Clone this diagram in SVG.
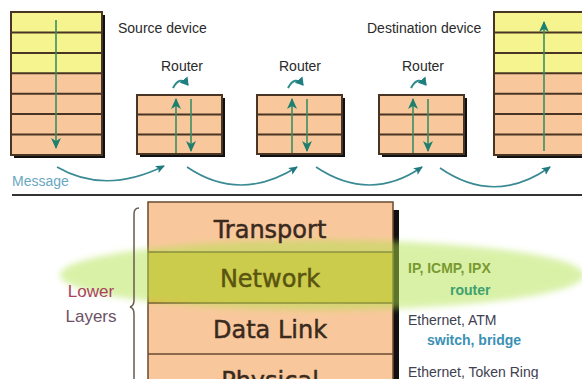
<svg xmlns="http://www.w3.org/2000/svg" width="582" height="379" viewBox="0 0 582 379">
<style>
.t{font-family:"Liberation Sans",Arial,sans-serif;font-size:14px;fill:#2a2a2a}
.big{font-family:"DejaVu Sans",Verdana,sans-serif;font-size:24px;fill:#3a2a1e;stroke:#3a2a1e;stroke-width:0.5;text-anchor:middle}
.or{fill:#f8c89c}
.ye{fill:#f6f48e}
.ln{stroke:#4a3424;stroke-width:2;fill:none}
.sh{fill:#111}
.sa{stroke:#3a8e62;stroke-width:1.6;fill:none}
.ma{stroke:#3a8a94;stroke-width:1.6;fill:none;marker-end:url(#mh)}
.ra{stroke:#2f8a8a;stroke-width:2;fill:none;marker-end:url(#rh)}
.r{font-family:"Liberation Sans",Arial,sans-serif;font-size:14px}
</style>
<defs>
<marker id="mh" markerWidth="10" markerHeight="10" refX="8" refY="5" orient="auto" markerUnits="userSpaceOnUse"><path d="M0,1 L9,5 L0,9 L2,5 Z" fill="#1f7a80"/></marker>
<marker id="ah" markerWidth="12" markerHeight="12" refX="10" refY="6" orient="auto" markerUnits="userSpaceOnUse"><path d="M0,1 L11,6 L0,11 L3,6 Z" fill="#1f7f6e"/></marker>
<marker id="rh" markerWidth="10" markerHeight="10" refX="7" refY="5" orient="auto" markerUnits="userSpaceOnUse"><path d="M0,0 L8,5 L0,10 Z" fill="#1f7f80"/></marker>
<filter id="blur" x="-10%" y="-30%" width="120%" height="160%"><feGaussianBlur stdDeviation="3"/></filter>
</defs>
<rect width="582" height="379" fill="#fff"/>

<!-- Source device -->
<g id="source">
<rect class="sh" x="14" y="15" width="91" height="143"/>
<rect class="ye" x="11" y="12" width="91" height="61.3"/>
<rect class="or" x="11" y="73.3" width="91" height="81.7"/>
<rect class="ln" x="11" y="12" width="91" height="143"/>
<path class="ln" d="M11,32.4H102M11,52.9H102M11,73.3H102M11,93.7H102M11,114.1H102M11,134.6H102"/>
<line class="sa" x1="56" y1="20" x2="56" y2="148" marker-end="url(#ah)"/>
</g>
<text class="t" x="118" y="33">Source device</text>

<!-- Destination device -->
<g id="destination">
<rect class="sh" x="497" y="15" width="91" height="143"/>
<rect class="ye" x="494" y="12" width="91" height="61.3"/>
<rect class="or" x="494" y="73.3" width="91" height="81.7"/>
<rect class="ln" x="494" y="12" width="91" height="143"/>
<path class="ln" d="M494,32.4H585M494,52.9H585M494,73.3H585M494,93.7H585M494,114.1H585M494,134.6H585"/>
<line class="sa" x1="544" y1="151" x2="544" y2="22" marker-end="url(#ah)"/>
</g>
<text class="t" x="367" y="33">Destination device</text>

<!-- Routers -->
<g id="router1">
<rect class="sh" x="140" y="98" width="85" height="59"/>
<rect class="or" x="137" y="95" width="85" height="59"/>
<rect class="ln" x="137" y="95" width="85" height="59"/>
<path class="ln" d="M137,114.5H222M137,134.5H222"/>
<line class="sa" x1="176" y1="153" x2="176" y2="99" marker-end="url(#ah)"/>
<line class="sa" x1="191" y1="99" x2="191" y2="151" marker-end="url(#ah)"/>
<text class="t" x="182" y="71" text-anchor="middle">Router</text>
<path class="ra" d="M173,88 Q180,75 188,85"/>
</g>
<g id="router2">
<rect class="sh" x="260" y="98" width="85" height="59"/>
<rect class="or" x="257" y="95" width="85" height="59"/>
<rect class="ln" x="257" y="95" width="85" height="59"/>
<path class="ln" d="M257,114.5H342M257,134.5H342"/>
<line class="sa" x1="292" y1="153" x2="292" y2="99" marker-end="url(#ah)"/>
<line class="sa" x1="307" y1="99" x2="307" y2="151" marker-end="url(#ah)"/>
<text class="t" x="300" y="71" text-anchor="middle">Router</text>
<path class="ra" d="M288,88 Q295,75 303,85"/>
</g>
<g id="router3">
<rect class="sh" x="382" y="98" width="85" height="59"/>
<rect class="or" x="379" y="95" width="85" height="59"/>
<rect class="ln" x="379" y="95" width="85" height="59"/>
<path class="ln" d="M379,114.5H464M379,134.5H464"/>
<line class="sa" x1="413" y1="153" x2="413" y2="99" marker-end="url(#ah)"/>
<line class="sa" x1="428" y1="99" x2="428" y2="151" marker-end="url(#ah)"/>
<text class="t" x="423" y="71" text-anchor="middle">Router</text>
<path class="ra" d="M411,88 Q418,75 426,85"/>
</g>

<!-- Message connectors -->
<g id="connectors">
<path class="ma" d="M57,167 Q105,195 164,166"/>
<path class="ma" d="M187,167 Q240,203 297,167"/>
<path class="ma" d="M316,167 Q370,203 422,167"/>
<path class="ma" d="M440,168 Q495,206 550,167"/>
</g>
<text x="12" y="186" style="font-family:'Liberation Sans',Arial,sans-serif;font-size:14px;fill:#6aa8c0">Message</text>

<line x1="12" y1="195" x2="582" y2="195" stroke="#333" stroke-width="2"/>

<!-- Bottom stack -->
<g id="stack">
<rect class="sh" x="393" y="210" width="6" height="169"/>
<rect class="or" x="148" y="202" width="245" height="180"/>
<rect x="148" y="252" width="245" height="51" fill="#e6b850"/>
<rect x="148" y="202" width="245" height="190" fill="none" stroke="#6a4a30" stroke-width="1.5"/>
<path d="M148,252H393M148,303H393M148,354H393" stroke="#6a4a30" stroke-width="1.5"/>
</g>
<ellipse cx="322" cy="275" rx="262" ry="35" fill="#b0e24a" opacity="0.48" filter="url(#blur)"/>
<g id="transport"><text class="big" x="270" y="238">Transport</text></g>
<g id="network"><text class="big" x="270" y="287" style="fill:#5a5410;stroke:#5a5410">Network</text></g>
<g id="datalink"><text class="big" x="270" y="338">Data Link</text></g>
<g id="physical"><text class="big" x="270" y="389">Physical</text></g>

<!-- Brace and Lower Layers -->
<path d="M139,208 Q134,208 134,214 L134,300 Q134,306 130,307 Q134,308 134,314 L134,379" fill="none" stroke="#6a5a50" stroke-width="1.5"/>
<text x="91" y="297" text-anchor="middle" style="font-family:'Liberation Sans',Arial,sans-serif;font-size:17px;fill:#a8445e">Lower</text>
<text x="91" y="322" text-anchor="middle" style="font-family:'Liberation Sans',Arial,sans-serif;font-size:17px;fill:#6e5066">Layers</text>

<!-- Protocol labels -->
<text class="r" x="408" y="273" style="font-weight:bold;fill:#7a9a30">IP, ICMP, IPX</text>
<text class="r" x="450" y="295" style="font-weight:bold;fill:#3fa070">router</text>
<text class="r" x="408" y="325" style="fill:#404050">Ethernet, ATM</text>
<text class="r" x="427" y="345" style="font-weight:bold;fill:#3a90b4">switch, bridge</text>
<text class="r" x="408" y="377" style="fill:#404050">Ethernet, Token Ring</text>
</svg>
